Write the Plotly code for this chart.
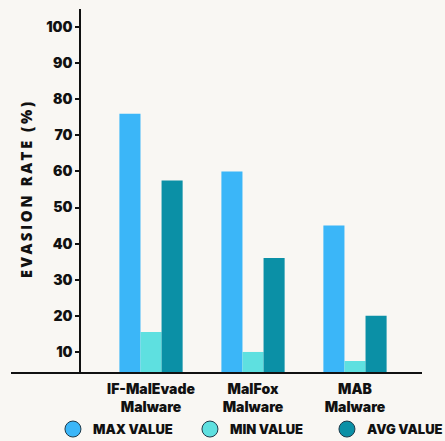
import plotly.graph_objects as go

# Evasion rate per malware generator (%)
categories = ["IF-MalEvade<br>Malware", "MalFox<br>Malware", "MAB<br>Malware"]
max_values = [76, 60, 45]
min_values = [15.5, 10, 7.5]
avg_values = [57.5, 36, 20]
series_names = ["MAX VALUE", "MIN VALUE", "AVG VALUE"]
series_colors = ["#3BB6F8", "#5EE0E0", "#0B90A6"]
y_ticks = [10, 20, 30, 40, 50, 60, 70, 80, 90, 100]

BG = "#F9F7F3"
INK = "#111111"
FONT = "Inter"

fig = go.Figure()

for name, vals, col in zip(series_names, [max_values, min_values, avg_values], series_colors):
    fig.add_trace(go.Bar(
        x=list(range(len(categories))), y=vals, name=name,
        marker=dict(color=col, line=dict(width=0)),
        showlegend=False,
    ))
    # circular legend swatch
    fig.add_trace(go.Scatter(
        x=[None], y=[None], mode="markers", name=name,
        marker=dict(symbol="circle", size=16, color=col,
                    line=dict(color="#1E3A4A", width=1)),
        showlegend=True,
    ))

title_text = "\u2009".join(list("EVASION RATE (%)"))

fig.update_layout(
    width=445, height=441,
    margin=dict(l=11, r=23, t=9, b=69),
    paper_bgcolor=BG, plot_bgcolor=BG,
    barmode="group", bargap=0.38, bargroupgap=0,
    font=dict(family=FONT, color=INK, size=13),
    xaxis=dict(
        range=[-1.373, 2.657], automargin=False,
        tickmode="array", tickvals=list(range(len(categories))), ticktext=categories,
        tickfont=dict(family=FONT, size=14, color=INK, weight=900),
        showline=True, linecolor=INK, linewidth=1.5,
        showgrid=False, zeroline=False, ticks="", ticklen=0,
        ticklabelstandoff=3,
    ),
    yaxis=dict(
        range=[4.45, 105], anchor="free", position=0.168, automargin=False,
        tickmode="array", tickvals=y_ticks,
        tickfont=dict(family=FONT, size=14, color=INK, weight=900),
        ticks="outside", ticklen=4, tickcolor=INK, tickwidth=1.5,
        showline=True, linecolor=INK, linewidth=1.5,
        showgrid=False, zeroline=False,
    ),
    legend=dict(
        orientation="h", xref="container", yref="container",
        x=0.119, xanchor="left", y=0.027, yanchor="middle",
        font=dict(family=FONT, size=13, color=INK, weight=900),
        bgcolor="rgba(0,0,0,0)", itemsizing="trace",
        entrywidth=92, entrywidthmode="pixels", itemwidth=30,
    ),
    annotations=[dict(
        text=title_text, xref="paper", yref="paper",
        x=0.0365, y=0.501, xanchor="center", yanchor="middle",
        textangle=-90, showarrow=False,
        font=dict(family="Open Sans", size=15, color=INK, weight=800),
    )],
)

fig.write_html("out.html")
